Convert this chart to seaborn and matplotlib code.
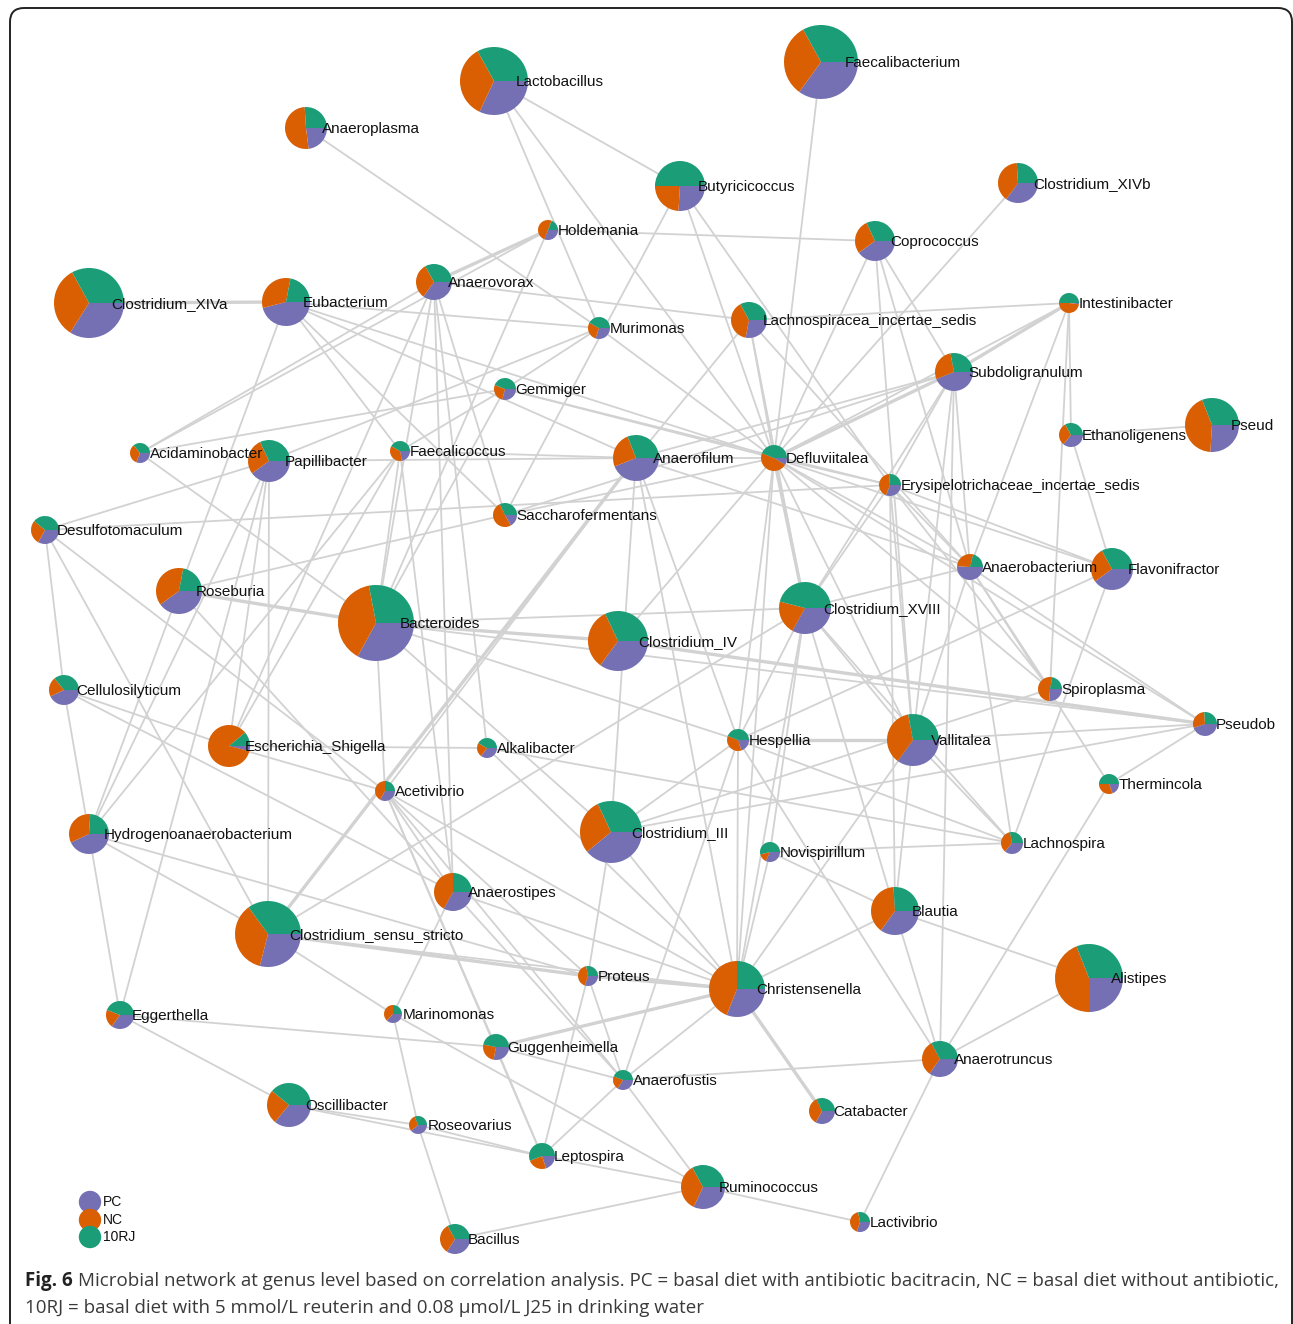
import numpy as np
import seaborn as sns
import matplotlib
matplotlib.use("Agg")
import matplotlib.pyplot as plt
from matplotlib.patches import Wedge, FancyBboxPatch
from matplotlib.collections import LineCollection

# node table (layout, pixel space)
node_id = ["LAC", "APL", "FAE", "BUT", "CXB", "HOL", "COP", "CXA", "EUB", "AVX",
           "MUR", "LIS", "INT", "SUB", "GEM", "ETH", "PSD", "ACI", "PAP", "FCC",
           "AFL", "DEF", "ERY", "DES", "SAC", "ABA", "FLA", "ROS", "BAC", "CIV",
           "C18", "CEL", "SPI", "PSB", "ESC", "ALK", "HES", "VAL", "THE", "ACE",
           "HYD", "CIII", "NOV", "LCH", "AST", "BLA", "CSS", "PRO", "CHR", "ALI",
           "EGG", "MAR", "GUG", "AFU", "ATR", "CAT", "OSC", "ROV", "LEP", "RUM",
           "BCL", "LAV"]
node_label = ["Lactobacillus", "Anaeroplasma", "Faecalibacterium", "Butyricicoccus",
              "Clostridium_XIVb", "Holdemania", "Coprococcus", "Clostridium_XIVa",
              "Eubacterium", "Anaerovorax", "Murimonas", "Lachnospiracea_incertae_sedis",
              "Intestinibacter", "Subdoligranulum", "Gemmiger", "Ethanoligenens", "Pseud",
              "Acidaminobacter", "Papillibacter", "Faecalicoccus", "Anaerofilum",
              "Defluviitalea", "Erysipelotrichaceae_incertae_sedis", "Desulfotomaculum",
              "Saccharofermentans", "Anaerobacterium", "Flavonifractor", "Roseburia",
              "Bacteroides", "Clostridium_IV", "Clostridium_XVIII", "Cellulosilyticum",
              "Spiroplasma", "Pseudob", "Escherichia_Shigella", "Alkalibacter", "Hespellia",
              "Vallitalea", "Thermincola", "Acetivibrio", "Hydrogenoanaerobacterium",
              "Clostridium_III", "Novispirillum", "Lachnospira", "Anaerostipes", "Blautia",
              "Clostridium_sensu_stricto", "Proteus", "Christensenella", "Alistipes",
              "Eggerthella", "Marinomonas", "Guggenheimella", "Anaerofustis",
              "Anaerotruncus", "Catabacter", "Oscillibacter", "Roseovarius", "Leptospira",
              "Ruminococcus", "Bacillus", "Lactivibrio"]
node_x = [494, 306, 821, 680, 1018, 548, 875, 89, 286, 434,
          599, 749, 1069, 954, 505, 1071, 1212, 140, 269, 400,
          636, 774, 890, 45, 505, 970, 1112, 179, 376, 618,
          805, 64, 1050, 1205, 229, 487, 738, 913, 1109, 385,
          89, 611, 770, 1012, 453, 895, 268, 588, 737, 1089,
          120, 393, 496, 623, 940, 822, 289, 418, 542, 703,
          455, 860]
node_y = [81, 128, 62, 186, 183, 230, 241, 303, 302, 282,
          328, 320, 303, 372, 389, 435, 425, 453, 461, 451,
          458, 458, 485, 530, 515, 567, 569, 591, 623, 641,
          608, 690, 689, 724, 746, 748, 740, 740, 784, 791,
          834, 832, 852, 843, 892, 911, 934, 976, 989, 978,
          1015, 1014, 1047, 1080, 1059, 1111, 1105, 1125, 1156, 1187,
          1239, 1222]
node_r = [34, 21, 37, 25, 20, 10, 20, 35, 24, 18,
          11, 18, 10, 19, 11, 12, 27, 10, 21, 10,
          23, 13, 11, 14, 12, 13, 21, 23, 38, 30,
          26, 15, 12, 12, 21, 10, 11, 26, 10, 10,
          20, 31, 10, 11, 19, 24, 33, 10, 28, 34,
          14, 9, 13, 10, 18, 13, 22, 9, 13, 22,
          15, 10]

# group shares per node (PC, NC, 10RJ)
pc_frac = [.32, .23, .35, .26, .35, .31, .40, .34, .46, .35,
           .30, .28, .02, .44, .29, .36, .26, .31, .40, .22,
           .44, .09, .31, .33, .17, .51, .40, .40, .33, .35,
           .33, .43, .26, .45, .04, .35, .20, .35, .19, .33,
           .43, .39, .32, .36, .33, .35, .29, .30, .31, .25,
           .35, .37, .28, .34, .35, .33, .36, .39, .20, .32,
           .34, .30]
nc_frac = [.35, .51, .32, .24, .39, .50, .28, .33, .32, .32,
           .28, .39, .48, .28, .27, .31, .43, .33, .28, .36,
           .25, .47, .43, .28, .51, .28, .27, .38, .39, .33,
           .21, .21, .52, .29, .85, .23, .36, .37, .31, .42,
           .33, .29, .14, .36, .42, .39, .36, .42, .44, .44,
           .21, .38, .25, .22, .32, .35, .25, .30, .24, .35,
           .33, .42]
rj_frac = [.33, .26, .33, .50, .26, .19, .32, .33, .22, .33,
           .42, .33, .50, .28, .44, .33, .31, .36, .32, .42,
           .31, .44, .26, .39, .32, .21, .33, .22, .28, .32,
           .46, .36, .22, .26, .11, .42, .44, .28, .50, .25,
           .24, .32, .54, .28, .25, .26, .35, .28, .25, .31,
           .44, .25, .47, .44, .33, .32, .39, .31, .56, .33,
           .33, .28]

groups = ["PC", "NC", "10RJ"]

edges = [
    ("LAC", "MUR"), ("LAC", "DEF"), ("LAC", "BUT"), ("APL", "MUR"), ("FAE", "DEF"),
    ("BUT", "SAC"), ("BUT", "DEF"), ("BUT", "ERY"), ("CXB", "DEF"),
    ("HOL", "COP"), ("HOL", "ACI"), ("HOL", "AVX"), ("HOL", "BAC"),
    ("COP", "DEF"), ("COP", "ABA"), ("COP", "SUB"), ("COP", "VAL"),
    ("CXA", "EUB"), ("EUB", "MUR"), ("EUB", "DEF"), ("EUB", "AFL"), ("EUB", "ROS"),
    ("EUB", "SAC"), ("EUB", "FCC"),
    ("AVX", "LIS"), ("AVX", "ACI"), ("AVX", "ESC"), ("AVX", "BAC"), ("AVX", "ALK"),
    ("AVX", "SAC"), ("AVX", "AST"),
    ("MUR", "DEF"), ("MUR", "GEM"), ("MUR", "PAP"),
    ("LIS", "INT"), ("LIS", "DEF"), ("LIS", "AFL"), ("LIS", "C18"), ("LIS", "ABA"),
    ("INT", "SUB"), ("INT", "DEF"), ("INT", "ETH"), ("INT", "SPI"), ("INT", "ABA"),
    ("SUB", "DEF"), ("SUB", "AFL"), ("SUB", "SAC"), ("SUB", "ERY"), ("SUB", "C18"),
    ("SUB", "ABA"), ("SUB", "VAL"), ("SUB", "ATR"),
    ("GEM", "DEF"), ("GEM", "FCC"), ("GEM", "BAC"), ("GEM", "ACI"), ("GEM", "ERY"),
    ("ETH", "PSD"), ("ETH", "FLA"), ("ACI", "BAC"),
    ("PAP", "DES"), ("PAP", "AFL"), ("PAP", "HYD"), ("PAP", "CSS"), ("PAP", "ESC"),
    ("PAP", "EGG"),
    ("FCC", "AFL"), ("FCC", "HYD"), ("FCC", "BAC"), ("FCC", "AST"), ("FCC", "ESC"),
    ("AFL", "DEF"), ("AFL", "CSS"), ("AFL", "ACE"), ("AFL", "CIII"), ("AFL", "HES"),
    ("AFL", "CHR"), ("AFL", "ABA"),
    ("DEF", "ERY"), ("DEF", "ABA"), ("DEF", "FLA"), ("DEF", "SPI"), ("DEF", "PSB"),
    ("DEF", "C18"), ("DEF", "VAL"), ("DEF", "HES"), ("DEF", "CHR"), ("DEF", "CIV"),
    ("DEF", "SAC"),
    ("ERY", "ABA"), ("ERY", "C18"), ("ERY", "VAL"), ("ERY", "FLA"), ("ERY", "SPI"),
    ("ERY", "BLA"), ("ERY", "DES"),
    ("DES", "CEL"), ("DES", "CSS"), ("DES", "ACE"), ("SAC", "ROS"),
    ("ABA", "C18"), ("ABA", "VAL"), ("ABA", "LCH"), ("ABA", "SPI"), ("ABA", "PSB"),
    ("ABA", "THE"), ("FLA", "LCH"), ("FLA", "HES"),
    ("ROS", "BAC"), ("ROS", "HYD"), ("ROS", "AST"),
    ("BAC", "CIV"), ("BAC", "C18"), ("BAC", "PSB"), ("BAC", "ACE"), ("BAC", "HES"),
    ("BAC", "CIII"), ("CIV", "PSB"),
    ("C18", "VAL"), ("C18", "HES"), ("C18", "NOV"), ("C18", "CHR"), ("C18", "CSS"),
    ("C18", "LCH"), ("C18", "BLA"),
    ("CEL", "HYD"), ("CEL", "ESC"), ("CEL", "AST"),
    ("SPI", "CIII"), ("PSB", "VAL"), ("PSB", "THE"), ("PSB", "CIII"),
    ("ESC", "ALK"), ("ESC", "ACE"), ("ALK", "CHR"), ("ALK", "LCH"),
    ("HES", "VAL"), ("HES", "CIII"), ("HES", "CHR"), ("HES", "LCH"), ("HES", "ATR"),
    ("HES", "AFU"), ("VAL", "BLA"), ("VAL", "CHR"), ("VAL", "LCH"), ("THE", "ATR"),
    ("ACE", "AST"), ("ACE", "GUG"), ("ACE", "AFU"), ("ACE", "PRO"), ("ACE", "CHR"),
    ("ACE", "LEP"),
    ("HYD", "EGG"), ("HYD", "CSS"), ("HYD", "PRO"), ("CIII", "PRO"), ("CIII", "CHR"),
    ("NOV", "LCH"), ("NOV", "BLA"), ("NOV", "CHR"),
    ("AST", "MAR"), ("AST", "AFU"), ("AST", "CHR"),
    ("BLA", "CHR"), ("BLA", "ALI"), ("BLA", "ATR"),
    ("CSS", "PRO"), ("CSS", "MAR"), ("CSS", "CHR"),
    ("PRO", "CHR"), ("PRO", "LEP"), ("PRO", "AFU"),
    ("CHR", "CAT"), ("CHR", "GUG"), ("CHR", "AFU"), ("ALI", "ATR"),
    ("EGG", "GUG"), ("EGG", "OSC"), ("MAR", "ROV"), ("MAR", "RUM"),
    ("GUG", "AFU"), ("GUG", "LEP"), ("AFU", "ATR"), ("AFU", "LEP"), ("AFU", "RUM"),
    ("ATR", "LAV"), ("OSC", "ROV"), ("OSC", "LEP"), ("ROV", "LEP"), ("ROV", "BCL"),
    ("LEP", "RUM"), ("RUM", "LAV"), ("RUM", "BCL"),
]
strong_edges = [("CXA", "EUB"), ("ROS", "BAC"), ("BAC", "CIV"), ("CIV", "PSB"),
                ("HES", "VAL"), ("CSS", "PRO"), ("AFL", "CSS"), ("PRO", "CHR"),
                ("DEF", "C18"), ("HOL", "AVX"), ("INT", "SUB"), ("SUB", "DEF"),
                ("CHR", "CAT"), ("CHR", "GUG")]

sns.set_theme(style="white")
pal = sns.color_palette("Dark2", 3)
group_colors = {"PC": pal[2], "NC": pal[1], "10RJ": pal[0]}

W, H = 1293, 1324
fig = plt.figure(figsize=(W / 100, H / 100), dpi=100)
ax = fig.add_axes([0, 0, 1, 1])
ax.set_xlim(0, W)
ax.set_ylim(H, 0)
ax.set_aspect("equal")
ax.axis("off")

pos = {n: (x, y) for n, x, y in zip(node_id, node_x, node_y)}

# edges
segs = [[pos[a], pos[b]] for a, b in edges]
widths = [2.4 if (a, b) in strong_edges else 1.3 for a, b in edges]
ax.add_collection(LineCollection(segs, colors="#d2d2d2", linewidths=widths, zorder=1))

# pie nodes, clockwise from 3 o'clock on screen (y axis is flipped)
for i, n in enumerate(node_id):
    shares = [pc_frac[i], nc_frac[i], rj_frac[i]]
    total = sum(shares)
    start = 0.0
    for g, s in zip(groups, shares):
        span = 360.0 * s / total
        ax.add_patch(Wedge(pos[n], node_r[i], start, start + span,
                           facecolor=group_colors[g], edgecolor="none", zorder=2))
        start += span
    ax.text(node_x[i] + 0.5 * node_r[i] + 5, node_y[i] + 1, node_label[i],
            fontsize=11, family="Liberation Sans", color="#111111",
            ha="left", va="center", zorder=3)

# legend
leg_y = [1202, 1220, 1237]
sns.scatterplot(x=[90] * 3, y=leg_y, hue=groups, palette=group_colors, s=260,
                linewidth=0, legend=False, ax=ax, zorder=3)
for g, y in zip(groups, leg_y):
    ax.text(103, y, g, fontsize=10, family="Liberation Sans", ha="left",
            va="center", color="#111111")

# frame
ax.add_patch(FancyBboxPatch((10, 8), 1282, 1340, boxstyle="round,pad=0,rounding_size=14",
                            facecolor="none", edgecolor="#222222", linewidth=1.4,
                            zorder=0, clip_on=False))

# caption
renderer = fig.canvas.get_renderer()
t = ax.text(25, 1281, "Fig. 6", fontsize=13.5, fontweight="bold", family="Open Sans",
            ha="left", va="center", color="#222222")
x_end = t.get_window_extent(renderer).x1
ax.text(x_end + 5, 1281,
        "Microbial network at genus level based on correlation analysis. PC = basal diet "
        "with antibiotic bacitracin, NC = basal diet without antibiotic,",
        fontsize=13.5, family="Open Sans", ha="left", va="center", color="#3a3a3a")
ax.text(25, 1308,
        "10RJ = basal diet with 5 mmol/L reuterin and 0.08 \u03bcmol/L J25 in drinking water",
        fontsize=13.5, family="Open Sans", ha="left", va="center", color="#3a3a3a")

fig.savefig("out.png", dpi=100)
